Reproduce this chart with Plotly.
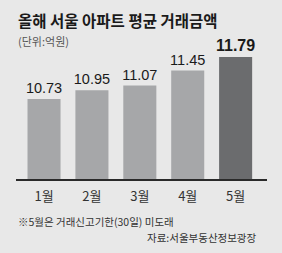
import plotly.graph_objects as go

months = ["1월", "2월", "3월", "4월", "5월"]
values = [10.73, 10.95, 11.07, 11.45, 11.79]
bar_colors = ["#a6a7a9", "#a6a7a9", "#a6a7a9", "#a6a7a9", "#6b6c6e"]
title_text = "올해 서울 아파트 평균 거래금액"
unit_text = "(단위:억원)"
note_text = "※5월은 거래신고기한(30일) 미도래"
source_text = "자료:서울부동산정보광장"

W, H = 282, 253
L, R, T, B = 16, 15, 40, 74
pw, ph = W - L - R, H - T - B


def px(x):
    return (x - L) / pw


def py(y):
    return (H - B - y) / ph


KR = "Noto Sans CJK KR"
NUM = "Liberation Sans, Arial, sans-serif"

labels = [f"{v:.2f}" for v in values]
labels[-1] = f"<b>{labels[-1]}</b>"
sizes = [14.5, 14.5, 14.5, 14.5, 16]

fig = go.Figure(
    go.Bar(
        x=months,
        y=values,
        marker=dict(color=bar_colors, line=dict(width=0)),
        width=0.69,
        text=labels,
        textposition="outside",
        constraintext="none",
        textfont=dict(family=NUM, size=sizes, color="#1a1a1a"),
        cliponaxis=False,
    )
)

fig.update_layout(
    width=W,
    height=H,
    margin=dict(l=L, r=R, t=T, b=B, pad=0),
    paper_bgcolor="#e8e8e8",
    plot_bgcolor="#e8e8e8",
    showlegend=False,
    xaxis=dict(
        range=[-0.585, 4.655],
        showgrid=False,
        zeroline=False,
        showline=True,
        linecolor="#2a2a2a",
        linewidth=1.5,
        ticks="",
        tickfont=dict(family=KR, size=13, color="#333333"),
        ticklabelstandoff=5,
        fixedrange=True,
    ),
    yaxis=dict(
        range=[8.71, 8.71 + ph / 39.6],
        visible=False,
        fixedrange=True,
    ),
    annotations=[
        dict(text=f"<b>{title_text}</b>", x=px(16), y=py(20), xref="paper", yref="paper",
             xanchor="left", yanchor="middle", showarrow=False,
             font=dict(family=KR, size=15.5, color="#1a1a1a")),
        dict(text=unit_text, x=px(16), y=py(41), xref="paper", yref="paper",
             xanchor="left", yanchor="middle", showarrow=False,
             font=dict(family=KR, size=11, color="#555555")),
        dict(text=note_text, x=px(16), y=py(221), xref="paper", yref="paper",
             xanchor="left", yanchor="middle", showarrow=False,
             font=dict(family=KR, size=10.5, color="#333333")),
        dict(text=source_text, x=px(259), y=py(237), xref="paper", yref="paper",
             xanchor="right", yanchor="middle", showarrow=False,
             font=dict(family=KR, size=10.5, color="#333333")),
    ],
)

fig.write_html("out.html", config={"displayModeBar": False})
